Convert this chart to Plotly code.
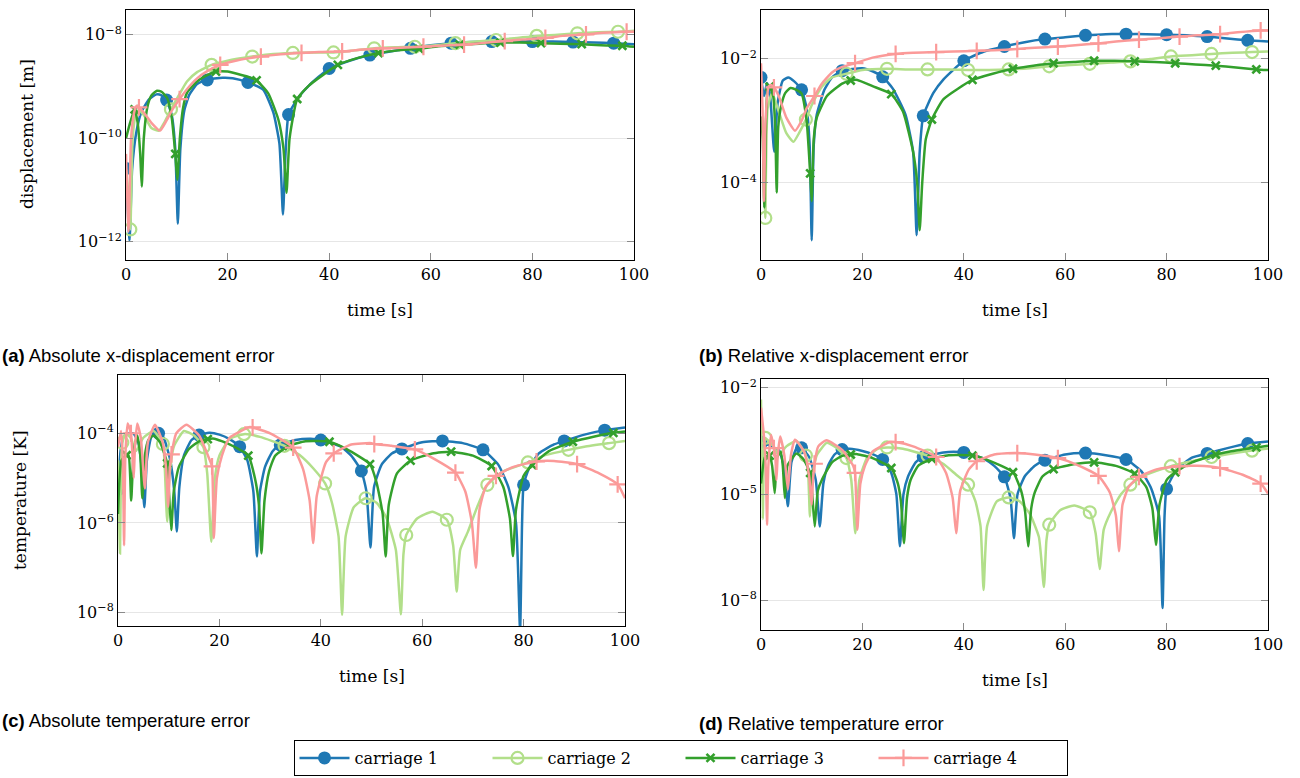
import numpy as np
import plotly.graph_objects as go

# ---------------- data (stored as log10 of the error) ----------------
NAMES = ["carriage 1", "carriage 2", "carriage 3", "carriage 4"]
COLORS = ["#1f78b4", "#b2df8a", "#33a02c", "#fb9a99"]

# marker times of each carriage [s]
mark_t1 = [0, 8, 16, 24, 32, 40, 48, 56, 64, 72, 80, 88, 96]
mark_t2 = [0.85, 8.85, 16.85, 24.85, 32.85, 40.85, 48.85, 56.85, 64.85, 72.85, 80.85, 88.85, 96.85]
mark_t3 = [1.7, 9.7, 17.7, 25.7, 33.7, 41.7, 49.7, 57.7, 65.7, 73.7, 81.7, 89.7, 97.7]
mark_t4 = [2.55, 10.55, 18.55, 26.55, 34.55, 42.55, 50.55, 58.55, 66.55, 74.55, 82.55, 90.55, 98.55]

# ---- (a) absolute x-displacement error [m], log10 ----
a1_mark = [-10.58, -9.26, -8.87, -8.92, -9.54, -8.65, -8.39, -8.26, -8.16, -8.13, -8.13, -8.14, -8.16]
a1_line = [(0.7, -11.97), (1.2, -10.6), (2, -9.9), (3, -9.5), (4.5, -9.25), (6, -9.15), (7, -9.17),
           (9, -9.55), (9.7, -10.2), (10.2, -11.65), (10.7, -10.2), (11.5, -9.45), (12.5, -9.15),
           (14, -8.95), (19, -8.83), (21, -8.84), (27, -9.06), (29, -9.5), (30.2, -10.1), (30.9, -11.47),
           (31.4, -10.3), (34, -9.2), (36, -8.98), (44, -8.5), (52, -8.32), (60, -8.2), (68, -8.14),
           (76, -8.12), (84, -8.13), (92, -8.15), (100, -8.18)]
a2_mark = [-11.76, -9.44, -8.58, -8.42, -8.35, -8.34, -8.26, -8.23, -8.16, -8.10, -8.02, -7.97, -7.94]
a2_line = [(0, -10.6), (0.4, -11.0), (1.3, -10.0), (1.8, -9.6), (2.5, -9.45), (3.5, -9.55), (5, -9.8),
           (6.5, -9.85), (7.5, -9.7), (10.5, -9.15), (12, -8.9), (14, -8.72), (20, -8.5), (28, -8.38),
           (37, -8.34), (45, -8.3), (53, -8.24), (61, -8.2), (69, -8.13), (77, -8.06), (85, -8.0),
           (93, -7.95), (100, -7.92)]
a3_mark = [-9.44, -10.3, -8.71, -8.88, -9.24, -8.58, -8.35, -8.27, -8.19, -8.15, -8.16, -8.18, -8.21]
a3_line = [(0, -10.0), (0.8, -9.7), (2.3, -9.7), (2.8, -10.3), (3.1, -10.93), (3.5, -10.0), (4.2, -9.4),
           (5, -9.17), (6.1, -9.08), (7, -9.1), (8.1, -9.22), (9, -9.6), (10.1, -10.8), (10.6, -10.0),
           (11.2, -9.43), (12, -9.12), (14, -8.9), (16, -8.78), (20, -8.71), (24, -8.81), (28, -9.13),
           (30, -9.64), (31, -10.2), (31.6, -11.05), (32.2, -10.0), (36, -8.98), (45.5, -8.45),
           (53.5, -8.3), (61.5, -8.22), (69.5, -8.17), (77.5, -8.15), (85.5, -8.17), (93.5, -8.2), (100, -8.23)]
a4_mark = [-9.40, -9.24, -8.58, -8.42, -8.35, -8.32, -8.26, -8.23, -8.19, -8.12, -8.06, -7.99, -7.94]
a4_line = [(0, -10.3), (0.5, -11.8), (1.0, -10.0), (1.6, -9.5), (2.1, -9.37), (3.5, -9.5), (5, -9.7),
           (6.7, -9.85), (8, -9.65), (9.1, -9.45), (12, -9.05), (14, -8.84), (16, -8.7), (22, -8.49),
           (30, -8.38), (38, -8.33), (46, -8.29), (54, -8.25), (62, -8.21), (70, -8.16), (78, -8.09),
           (86, -8.02), (94, -7.96), (100, -7.94)]

# ---- (b) relative x-displacement error, log10 ----
b1_mark = [-2.30, -2.50, -2.19, -2.29, -2.92, -2.03, -1.80, -1.68, -1.62, -1.60, -1.61, -1.64, -1.70]
b1_line = [(0.6, -2.6), (1.2, -2.39), (1.8, -2.6), (2.6, -3.5), (3.3, -2.7), (4.3, -2.35), (5.4, -2.30),
           (6.5, -2.36), (9, -2.8), (9.6, -3.4), (10.0, -4.93), (10.4, -3.4), (11, -2.9), (12.5, -2.5),
           (14, -2.3), (20, -2.15), (22, -2.2), (26, -2.48), (28.5, -2.9), (30, -3.5), (30.7, -4.85),
           (31.3, -3.5), (34, -2.55), (36, -2.33), (44, -1.88), (52, -1.73), (60, -1.65), (68, -1.6),
           (76, -1.6), (84, -1.62), (92, -1.67), (100, -1.72)]
b2_mark = [-4.57, -2.98, -2.24, -2.16, -2.17, -2.18, -2.17, -2.12, -2.08, -2.04, -1.96, -1.92, -1.89]
b2_line = [(0, -3.0), (0.5, -3.3), (1.3, -2.8), (2.2, -2.55), (3.5, -2.85), (5, -3.2), (6.4, -3.34),
           (7.5, -3.2), (10, -2.75), (12, -2.45), (14, -2.3), (20, -2.18), (29, -2.17), (37, -2.17),
           (45, -2.18), (53, -2.15), (61, -2.1), (69, -2.06), (77, -2.0), (85, -1.94), (93, -1.9), (100, -1.88)]
b3_mark = [-2.45, -3.85, -2.35, -2.57, -2.98, -2.34, -2.16, -2.07, -2.03, -2.04, -2.07, -2.11, -2.17]
b3_line = [(0, -2.93), (0.35, -3.3), (0.65, -4.4), (1.0, -3.0), (1.3, -2.5), (2.4, -2.6), (2.8, -3.1),
           (3.1, -4.16), (3.4, -3.1), (4, -2.75), (4.8, -2.55), (5.8, -2.47), (7, -2.5), (8, -2.56),
           (9, -3.0), (10.0, -4.3), (10.4, -3.3), (11, -2.95), (13, -2.6), (16, -2.4), (19, -2.34),
           (22, -2.44), (28, -2.85), (30, -3.5), (30.8, -4.0), (31.3, -4.77), (31.8, -4.0), (32.5, -3.3),
           (36, -2.65), (45.7, -2.24), (53.7, -2.11), (61.7, -2.05), (69.7, -2.03), (77.7, -2.05),
           (85.7, -2.09), (93.7, -2.14), (100, -2.18)]
b4_mark = [-2.46, -2.60, -2.07, -1.92, -1.89, -1.87, -1.84, -1.80, -1.75, -1.69, -1.64, -1.60, -1.54]
b4_line = [(0, -2.07), (0.3, -2.8), (0.6, -4.3), (0.9, -3.0), (1.5, -2.45), (2, -2.42), (3.5, -2.6),
           (5, -2.95), (6.7, -3.16), (8, -3.0), (9, -2.8), (12, -2.4), (14, -2.22), (16, -2.13), (22, -1.98),
           (30, -1.9), (38, -1.88), (46, -1.86), (54, -1.82), (62, -1.78), (70, -1.72), (78, -1.67),
           (86, -1.62), (94, -1.57), (100, -1.54)]

# ---- (c) absolute temperature error [K], log10 ----
c1_mark = [-5.26, -4.00, -4.04, -4.30, -4.26, -4.15, -4.84, -4.35, -4.17, -4.37, -5.15, -4.17, -3.93]
c1_line = [(0.5, -4.4), (1, -4.1), (2, -4.0), (3, -4.0), (4, -4.2), (4.7, -4.8), (5.2, -5.65), (5.7, -4.6),
           (6.5, -4.1), (7.3, -3.97), (9, -4.1), (10.3, -4.6), (11.1, -5.3), (11.6, -6.19), (12.1, -5.2),
           (13, -4.5), (14.5, -4.15), (18, -3.99), (20, -4.03), (22, -4.13), (25.5, -4.6), (26.7, -5.3),
           (27.4, -6.75), (28.0, -5.3), (29, -4.75), (30.5, -4.4), (35, -4.15), (38, -4.12), (44, -4.3),
           (46, -4.5), (49.0, -5.3), (49.8, -6.55), (50.5, -5.2), (52, -4.7), (54, -4.45), (60, -4.2),
           (68, -4.22), (75, -4.7), (77, -5.2), (78.5, -6.0), (79.3, -8.4), (79.7, -6.0), (81, -4.8),
           (83, -4.45), (86, -4.25), (92, -4.03), (100, -3.87)]
c2_mark = [-4.21, -4.24, -4.31, -4.02, -4.28, -5.12, -5.45, -6.27, -5.93, -5.15, -4.65, -4.37, -4.22]
c2_line = [(0, -4.6), (0.4, -6.68), (0.6, -4.7), (1.5, -4.0), (2.5, -4.1), (3.5, -4.4), (5, -4.1), (7, -3.95),
           (9.2, -4.7), (9.7, -5.97), (10.2, -4.9), (11, -4.3), (13, -3.95), (15, -4.05), (17.6, -4.9),
           (18.4, -6.42), (19.1, -5.0), (20, -4.5), (22, -4.13), (28, -4.08), (36, -4.5), (38.5, -4.78),
           (42.2, -5.55), (43.5, -6.3), (44.2, -8.05), (44.9, -6.3), (46.5, -5.65), (51, -5.55), (53, -5.9),
           (54.8, -6.6), (55.8, -8.04), (56.3, -6.7), (59, -5.9), (62, -5.75), (66.1, -6.5), (66.8, -7.53),
           (67.5, -6.6), (69, -6.2), (71, -5.6), (76, -4.85), (84, -4.5), (92, -4.3), (100, -4.17)]
c3_mark = [-4.49, -4.67, -4.13, -4.50, -4.28, -4.19, -4.69, -4.61, -4.41, -4.73, -4.71, -4.19, -3.99]
c3_line = [(0, -5.8), (0.7, -4.6), (2.1, -4.5), (2.6, -5.5), (3.1, -4.4), (3.8, -4.05), (4.4, -4.5),
           (4.8, -5.45), (5.3, -4.5), (6, -4.15), (7, -4.05), (8.3, -4.2), (10.0, -5.2), (10.5, -6.16),
           (11.0, -5.3), (12, -4.75), (14, -4.35), (16, -4.18), (19, -4.12), (22, -4.25), (27, -5.0),
           (27.8, -5.6), (28.3, -6.68), (28.9, -5.5), (29.8, -4.85), (31, -4.5), (37, -4.18), (45, -4.35),
           (51, -5.1), (52.2, -5.8), (52.8, -6.75), (53.4, -5.6), (55, -4.9), (62, -4.45), (70, -4.5),
           (76, -5.2), (77.3, -5.9), (77.9, -6.74), (78.5, -5.7), (80, -4.95), (85, -4.4), (94, -4.07),
           (100, -3.96)]
c4_mark = [-4.00, -4.47, -4.74, -3.87, -4.32, -4.45, -4.24, -4.36, -4.88, -4.95, -4.63, -4.69, -5.14]
c4_line = [(0, -4.3), (0.6, -3.95), (0.95, -4.6), (1.2, -6.5), (1.45, -4.5), (1.9, -3.78), (2.85, -4.5),
           (3.1, -5.0), (3.35, -4.3), (3.8, -3.78), (4.5, -4.1), (5.3, -5.23), (5.9, -4.2), (7.3, -3.81),
           (8.8, -4.2), (9.5, -4.8), (9.9, -5.64), (10.2, -4.8), (11.5, -4.0), (13.5, -3.81), (16, -4.05),
           (18.1, -4.6), (18.9, -6.34), (19.5, -5.0), (20.5, -4.5), (22, -4.1), (26, -3.86), (30, -4.0),
           (36.5, -4.8), (37.8, -5.5), (38.5, -6.45), (39.2, -5.4), (41, -4.65), (46, -4.25), (50, -4.22),
           (54, -4.28), (62, -4.55), (68.5, -5.3), (69.8, -6.0), (70.6, -7.0), (71.3, -5.7), (72.5, -5.2),
           (78, -4.75), (86, -4.62), (95, -4.9), (100, -5.45)]

# ---- (d) relative temperature error, log10 ----
d1_mark = [-3.53, -3.69, -3.74, -4.02, -3.95, -3.82, -4.51, -4.04, -3.84, -4.02, -4.85, -3.85, -3.57]
d1_line = [(0.5, -3.7), (1.2, -3.6), (2.5, -3.7), (3.5, -3.75), (4.5, -4.2), (5.3, -5.34), (6.0, -4.1),
           (7.2, -3.65), (9.5, -3.95), (10.8, -4.6), (11.6, -5.91), (12.3, -4.7), (13.2, -4.2), (14.5, -3.88),
           (17.5, -3.72), (20, -3.78), (22, -3.87), (25.7, -4.4), (26.7, -5.0), (27.4, -6.47), (28.1, -5.0),
           (29, -4.5), (30.5, -4.1), (36, -3.82), (38, -3.8), (44, -4.0), (46, -4.2), (49.2, -5.1),
           (49.9, -6.24), (50.6, -5.0), (52, -4.5), (54, -4.2), (60, -3.88), (68, -3.9), (75, -4.35),
           (77, -4.85), (78.5, -5.6), (79.2, -8.21), (79.6, -5.6), (82, -4.3), (85, -3.97), (92, -3.7),
           (100, -3.51)]
d2_mark = [-3.41, -3.91, -3.98, -3.68, -3.91, -4.73, -5.09, -5.86, -5.51, -4.73, -4.21, -3.95, -3.77]
d2_line = [(0, -2.33), (0.15, -3.8), (0.35, -5.7), (0.55, -4.0), (1.5, -3.5), (2.5, -3.65), (3.5, -3.9),
           (5, -3.65), (7, -3.5), (9.3, -4.4), (9.65, -5.63), (10.0, -4.6), (11, -3.9), (13, -3.55),
           (15, -3.7), (17.8, -4.6), (18.6, -6.1), (19.4, -4.6), (21, -3.95), (23, -3.72), (28, -3.72),
           (36, -4.15), (38.5, -4.45), (42.3, -5.2), (43.3, -5.9), (43.9, -7.7), (44.6, -5.9), (46.5, -5.2),
           (51, -5.2), (53, -5.55), (54.8, -6.2), (55.8, -7.62), (56.3, -6.3), (59, -5.45), (61.8, -5.32),
           (66, -6.1), (66.8, -7.11), (67.6, -6.0), (69, -5.5), (71, -5.0), (76, -4.45), (84, -4.1),
           (92, -3.87), (100, -3.71)]
d3_mark = [-3.91, -4.40, -3.88, -4.26, -4.00, -3.91, -4.38, -4.29, -4.10, -4.42, -4.38, -3.88, -3.68]
d3_line = [(0, -4.7), (0.8, -3.95), (2.2, -4.2), (2.7, -4.97), (3.2, -3.95), (3.9, -3.8), (4.3, -4.2),
           (4.7, -5.11), (5.2, -4.2), (7, -3.85), (8.3, -4.0), (10.1, -5.0), (10.6, -5.91), (11.2, -4.9),
           (12, -4.6), (14, -4.1), (16, -3.92), (19, -3.87), (22, -3.98), (27, -4.7), (27.6, -5.2),
           (28.2, -6.38), (28.8, -5.1), (29.5, -4.6), (31, -4.2), (37, -3.9), (45, -4.05), (51.3, -4.9),
           (52.1, -5.5), (52.7, -6.47), (53.3, -5.4), (54, -4.95), (55.5, -4.5), (62, -4.15), (70, -4.2),
           (76, -4.8), (77.2, -5.4), (77.9, -6.43), (78.6, -5.3), (80, -4.6), (85, -4.1), (94, -3.76),
           (100, -3.63)]
d4_mark = [-3.70, -4.14, -4.40, -3.53, -3.95, -4.07, -3.84, -3.98, -4.48, -4.51, -4.21, -4.26, -4.70]
d4_line = [(0, -2.56), (0.6, -3.4), (0.95, -4.3), (1.2, -5.86), (1.45, -4.2), (2.0, -3.32), (2.85, -4.0),
           (3.05, -4.6), (3.3, -3.9), (3.8, -3.37), (4.6, -3.9), (5.3, -4.87), (5.9, -3.9), (6.7, -3.46),
           (8.5, -3.8), (9.5, -4.5), (10.0, -5.3), (10.25, -4.6), (11.3, -3.65), (12.9, -3.48), (16, -3.75),
           (18.2, -4.2), (19.0, -6.0), (19.6, -4.7), (20.5, -4.2), (22, -3.8), (25.5, -3.52), (30, -3.65),
           (36.5, -4.4), (37.8, -5.1), (38.5, -6.1), (39.3, -4.9), (41, -4.3), (46, -3.88), (50, -3.84),
           (54, -3.88), (62, -4.15), (68.8, -4.95), (70, -5.6), (70.6, -6.61), (71.3, -5.3), (72.5, -4.8),
           (78, -4.3), (86, -4.2), (95, -4.45), (100, -4.98)]

X_TICKS = [0, 20, 40, 60, 80, 100]
Y_TICKS = {
    "a": [-12, -10, -8],
    "b": [-4, -2],
    "c": [-8, -6, -4],
    "d": [-8, -5, -2],
}
CAPTIONS = {
    "a": "<b>(a)</b> Absolute x-displacement error",
    "b": "<b>(b)</b> Relative x-displacement error",
    "c": "<b>(c)</b> Absolute temperature error",
    "d": "<b>(d)</b> Relative temperature error",
}

# ---------------- layout geometry (pixels) ----------------
W, H = 1300, 778
PANELS = {
    # key: (axis suffix, left, right, top, bottom, y-range log10)
    "a": ("", 126, 634, 10, 260, [-12.35, -7.52]),
    "b": ("2", 761, 1268, 10, 260, [-5.25, -1.21]),
    "c": ("3", 118, 625, 375, 626, [-8.30, -2.70]),
    "d": ("4", 761, 1268, 379, 630, [-8.83, -1.75]),
}
DATA = {
    "a": [(a1_line, a1_mark), (a2_line, a2_mark), (a3_line, a3_mark), (a4_line, a4_mark)],
    "b": [(b1_line, b1_mark), (b2_line, b2_mark), (b3_line, b3_mark), (b4_line, b4_mark)],
    "c": [(c1_line, c1_mark), (c2_line, c2_mark), (c3_line, c3_mark), (c4_line, c4_mark)],
    "d": [(d1_line, d1_mark), (d2_line, d2_mark), (d3_line, d3_mark), (d4_line, d4_mark)],
}
MARK_T = [mark_t1, mark_t2, mark_t3, mark_t4]

SERIF = "DejaVu Serif"
SANS = "Liberation Sans"


def marker_style(i):
    c = COLORS[i]
    if i == 0:
        return dict(symbol="circle", size=13, color=c, line=dict(width=0))
    if i == 1:
        return dict(symbol="circle-open", size=12, color=c, line=dict(width=2.2, color=c))
    if i == 2:
        return dict(symbol="x-thin", size=8, color=c, line=dict(width=2.6, color=c))
    return dict(symbol="cross-thin", size=12, color=c, line=dict(width=2.2, color=c))


fig = go.Figure()

# legend entries
for i in range(4):
    fig.add_trace(go.Scatter(x=[None], y=[None], mode="lines+markers", name=NAMES[i],
                             line=dict(color=COLORS[i], width=2.5), marker=marker_style(i),
                             showlegend=True, xaxis="x", yaxis="y"))

for key, (suf, l, r, t, b, yr) in PANELS.items():
    xa, ya = "x" + suf, "y" + suf
    for i, (line_pts, mark_e) in enumerate(DATA[key]):
        pts = sorted(list(line_pts) + list(zip(MARK_T[i], mark_e)))
        tt = np.array([p[0] for p in pts])
        yy = 10.0 ** np.array([p[1] for p in pts])
        fig.add_trace(go.Scatter(x=tt, y=yy, mode="lines", showlegend=False, hoverinfo="skip",
                                 line=dict(color=COLORS[i], width=2.5, shape="spline", smoothing=0.5),
                                 xaxis=xa, yaxis=ya))
        fig.add_trace(go.Scatter(x=MARK_T[i], y=10.0 ** np.array(mark_e), mode="markers",
                                 showlegend=False, hoverinfo="skip", marker=marker_style(i),
                                 xaxis=xa, yaxis=ya))

layout = dict(
    width=W, height=H, margin=dict(l=0, r=0, t=0, b=0, autoexpand=False),
    paper_bgcolor="white", plot_bgcolor="white",
    showlegend=True,
    legend=dict(orientation="h", x=(299 + 1062) / 2 / W, y=1 - 758 / H, xanchor="center", yanchor="middle",
                bordercolor="black", borderwidth=1, bgcolor="white",
                font=dict(family=SERIF, size=16, color="black"),
                entrywidth=128, entrywidthmode="pixels", itemwidth=50, tracegroupgap=0),
    annotations=[],
)

for key, (suf, l, r, t, b, yr) in PANELS.items():
    xname = "xaxis" + suf
    yname = "yaxis" + suf
    layout[xname] = dict(
        domain=[l / W, r / W], range=[0, 100], anchor="y" + suf, automargin=False,
        tickmode="array", tickvals=X_TICKS, ticktext=[str(v) for v in X_TICKS],
        ticks="inside", ticklen=7, tickcolor="#8a8a8a", tickwidth=1,
        mirror="allticks", showline=True, linecolor="black", linewidth=1,
        showgrid=False, zeroline=False,
        tickfont=dict(family=SERIF, size=16, color="black"),
    )
    layout[yname] = dict(
        domain=[1 - b / H, 1 - t / H], type="log", range=yr, anchor="x" + suf, automargin=False,
        tickmode="array", tickvals=[10.0 ** e for e in Y_TICKS[key]],
        ticktext=["10<sup>\u2212%d</sup>" % (-e) for e in Y_TICKS[key]],
        ticks="inside", ticklen=7, tickcolor="#8a8a8a", tickwidth=1,
        mirror="allticks", showline=True, linecolor="black", linewidth=1,
        showgrid=True, gridcolor="#e6e6e6", gridwidth=1, zeroline=False,
        tickfont=dict(family=SERIF, size=16, color="black"),
    )
    # x axis title
    layout["annotations"].append(dict(
        text="time [s]", x=(l + r) / 2 / W, y=1 - (b + 50) / H, xref="paper", yref="paper",
        showarrow=False, xanchor="center", yanchor="middle",
        font=dict(family=SERIF, size=17, color="black")))

layout["annotations"].append(dict(
    text="displacement [m]", x=27 / W, y=1 - 134 / H, xref="paper", yref="paper", textangle=-90,
    showarrow=False, xanchor="center", yanchor="middle", font=dict(family=SERIF, size=17, color="black")))
layout["annotations"].append(dict(
    text="temperature [K]", x=20 / W, y=1 - 500 / H, xref="paper", yref="paper", textangle=-90,
    showarrow=False, xanchor="center", yanchor="middle", font=dict(family=SERIF, size=17, color="black")))

CAP_POS = {"a": (0, 355), "b": (697, 355), "c": (0, 720), "d": (697, 723)}
for key, (px, py) in CAP_POS.items():
    layout["annotations"].append(dict(
        text=CAPTIONS[key], x=px / W, y=1 - py / H, xref="paper", yref="paper",
        showarrow=False, xanchor="left", yanchor="middle",
        font=dict(family=SANS, size=18.5, color="black")))

fig.update_layout(**layout)
fig.write_html("out.html", config={"displayModeBar": False},
               post_script="document.body.style.margin='0';document.body.style.overflow='hidden';")
